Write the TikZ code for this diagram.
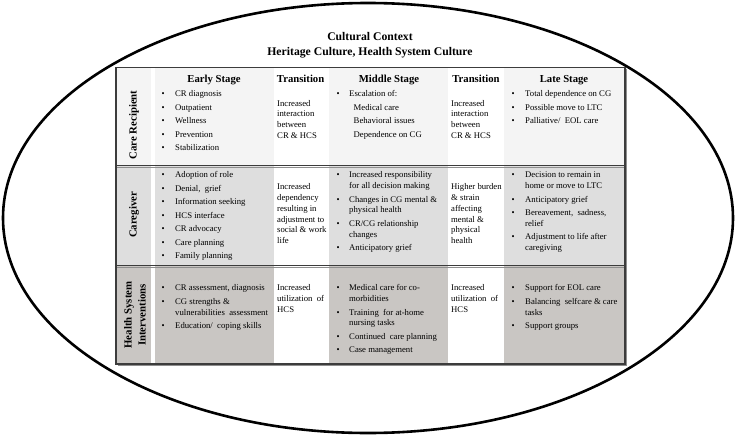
\documentclass[tikz,border=0pt]{standalone}
\usepackage{fontspec}
\setmainfont{Liberation Serif}
\definecolor{rowA}{HTML}{F4F4F4}
\definecolor{rowB}{HTML}{DEDEDE}
\definecolor{rowC}{HTML}{C9C6C3}
\definecolor{framec}{HTML}{3C3C3C}
\definecolor{shadowc}{HTML}{8E8E8E}
\newcommand\st{\rule{0pt}{7pt}}
\newcommand\bA{\makebox[13.5pt][l]{\textbullet}}
\newcommand\hA{\hspace*{13.5pt}}
\newcommand\bB{\makebox[12.5pt][l]{\textbullet}}
\newcommand\hB{\hspace*{12.5pt}}
\newcommand\hC{\hspace*{17pt}}
\newcommand\nl{\\[2.8pt]}
\begin{document}
\begin{tikzpicture}[x=1pt,y=-1pt,
  body/.style={font=\fontsize{8.7}{10.7}\selectfont, inner sep=0pt, anchor=north west, align=left},
  hdr/.style={font=\bfseries\fontsize{10.7}{12}\selectfont, inner sep=0pt, anchor=base},
  rowlab/.style={font=\bfseries\fontsize{10.8}{14}\selectfont, rotate=90, inner sep=0pt, align=center},
  ttl/.style={font=\bfseries\fontsize{11.7}{14}\selectfont, inner sep=0pt, anchor=base},
  frame/.style={draw=framec, line width=1.3pt},
  shade/.style={draw=shadowc, line width=1.2pt}
]
\useasboundingbox (0,0) rectangle (736,436);
% outer ellipse
\draw[line width=2.6pt] (368,218) ellipse [x radius=365, y radius=215];
% title
\node[ttl] (t1) at (370,40.7) {Cultural Context};
\node[ttl] (t2) at (370,55.7) {Heritage Culture, Health System Culture};
% table backgrounds
\fill[rowA] (116,67.5) rectangle (625,165.5);
\fill[rowB] (116,165.5) rectangle (625,265.5);
\fill[rowC] (116,265.5) rectangle (625,364);
\fill[white] (151,67.5) rectangle (155,364);
\fill[white] (274,67.5) rectangle (329,364);
\fill[white] (448,67.5) rectangle (504,364);
% borders
\draw[shade] (626.6,69) -- (626.6,365.6) -- (117.5,365.6);
\draw[shade] (116,167.2) -- (625,167.2);
\draw[shade] (116,267.2) -- (625,267.2);
\draw[frame] (116,67.5) rectangle (625,364);
\draw[frame] (116,165.5) -- (625,165.5);
\draw[frame] (116,265.5) -- (625,265.5);
% headers
\node[hdr] (h1) at (214,82.2) {Early Stage};
\node[hdr] (h2) at (300.6,82.2) {Transition};
\node[hdr] (h3) at (389,82.2) {Middle Stage};
\node[hdr] (h4) at (476,82.2) {Transition};
\node[hdr] (h5) at (564,82.2) {Late Stage};
% row labels
\node[rowlab] (l1) at (134,125) {Care Recipient};
\node[rowlab] (l2) at (134,215) {Caregiver};
\node[rowlab] (l3) at (135,315) {Health System\\Interventions};
% row 1
\node[body] (r1e) at (161.5,89.3) {\st\bA CR diagnosis\nl\bA Outpatient\nl\bA Wellness\nl\bA Prevention\nl\bA Stabilization};
\node[body] (r1t1) at (277,99) {\st Increased\\interaction\\between\\CR \& HCS};
\node[body] (r1m) at (336.5,89.3) {\st\bB Escalation of:\nl\hC Medical care\nl\hC Behavioral issues\nl\hC Dependence on CG};
\node[body] (r1t2) at (451,99) {\st Increased\\interaction\\between\\CR \& HCS};
\node[body] (r1l) at (511.5,89.3) {\st\bA Total dependence on CG\nl\bA Possible move to LTC\nl\bA Palliative/\ \ EOL care};
% row 2
\node[body] (r2e) at (161.5,170.7) {\st\bA Adoption of role\nl\bA Denial,\ \ grief\nl\bA Information seeking\nl\bA HCS interface\nl\bA CR advocacy\nl\bA Care planning\nl\bA Family planning};
\node[body] (r2t1) at (277,182.7) {\st Increased\\dependency\\resulting in\\adjustment to\\social \& work\\life};
\node[body] (r2m) at (336.5,170.7) {\st\bB Increased responsibility\\\hB for all decision making\nl\bB Changes in CG mental \&\\\hB physical health\nl\bB CR/CG relationship\\\hB changes\nl\bB Anticipatory grief};
\node[body] (r2t2) at (451,182.7) {\st Higher burden\\\& strain\\affecting\\mental \&\\physical\\health};
\node[body] (r2l) at (511.5,170.7) {\st\bA Decision to remain in\\\hA home or move to LTC\nl\bA Anticipatory grief\nl\bA Bereavement,\ \ sadness,\\\hA relief\nl\bA Adjustment to life after\\\hA caregiving};
% row 3
\node[body] (r3e) at (161.5,283.7) {\st\bA CR assessment, diagnosis\nl\bA CG strengths \&\\\hA vulnerabilities\ \ assessment\nl\bA Education/\ \ coping skills};
\node[body] (r3t1) at (277,283.5) {\st Increased\\utilization\ \ of\\HCS};
\node[body] (r3m) at (336.5,283.7) {\st\bB Medical care for co-\\\hB morbidities\nl\bB Training\ \ for at-home\\\hB nursing tasks\nl\bB Continued\ \ care planning\nl\bB Case management};
\node[body] (r3t2) at (451,283.5) {\st Increased\\utilization\ \ of\\HCS};
\node[body] (r3l) at (511.5,283.7) {\st\bA Support for EOL care\nl\bA Balancing\ \ selfcare \& care\\\hA tasks\nl\bA Support groups};
\end{tikzpicture}
\end{document}
